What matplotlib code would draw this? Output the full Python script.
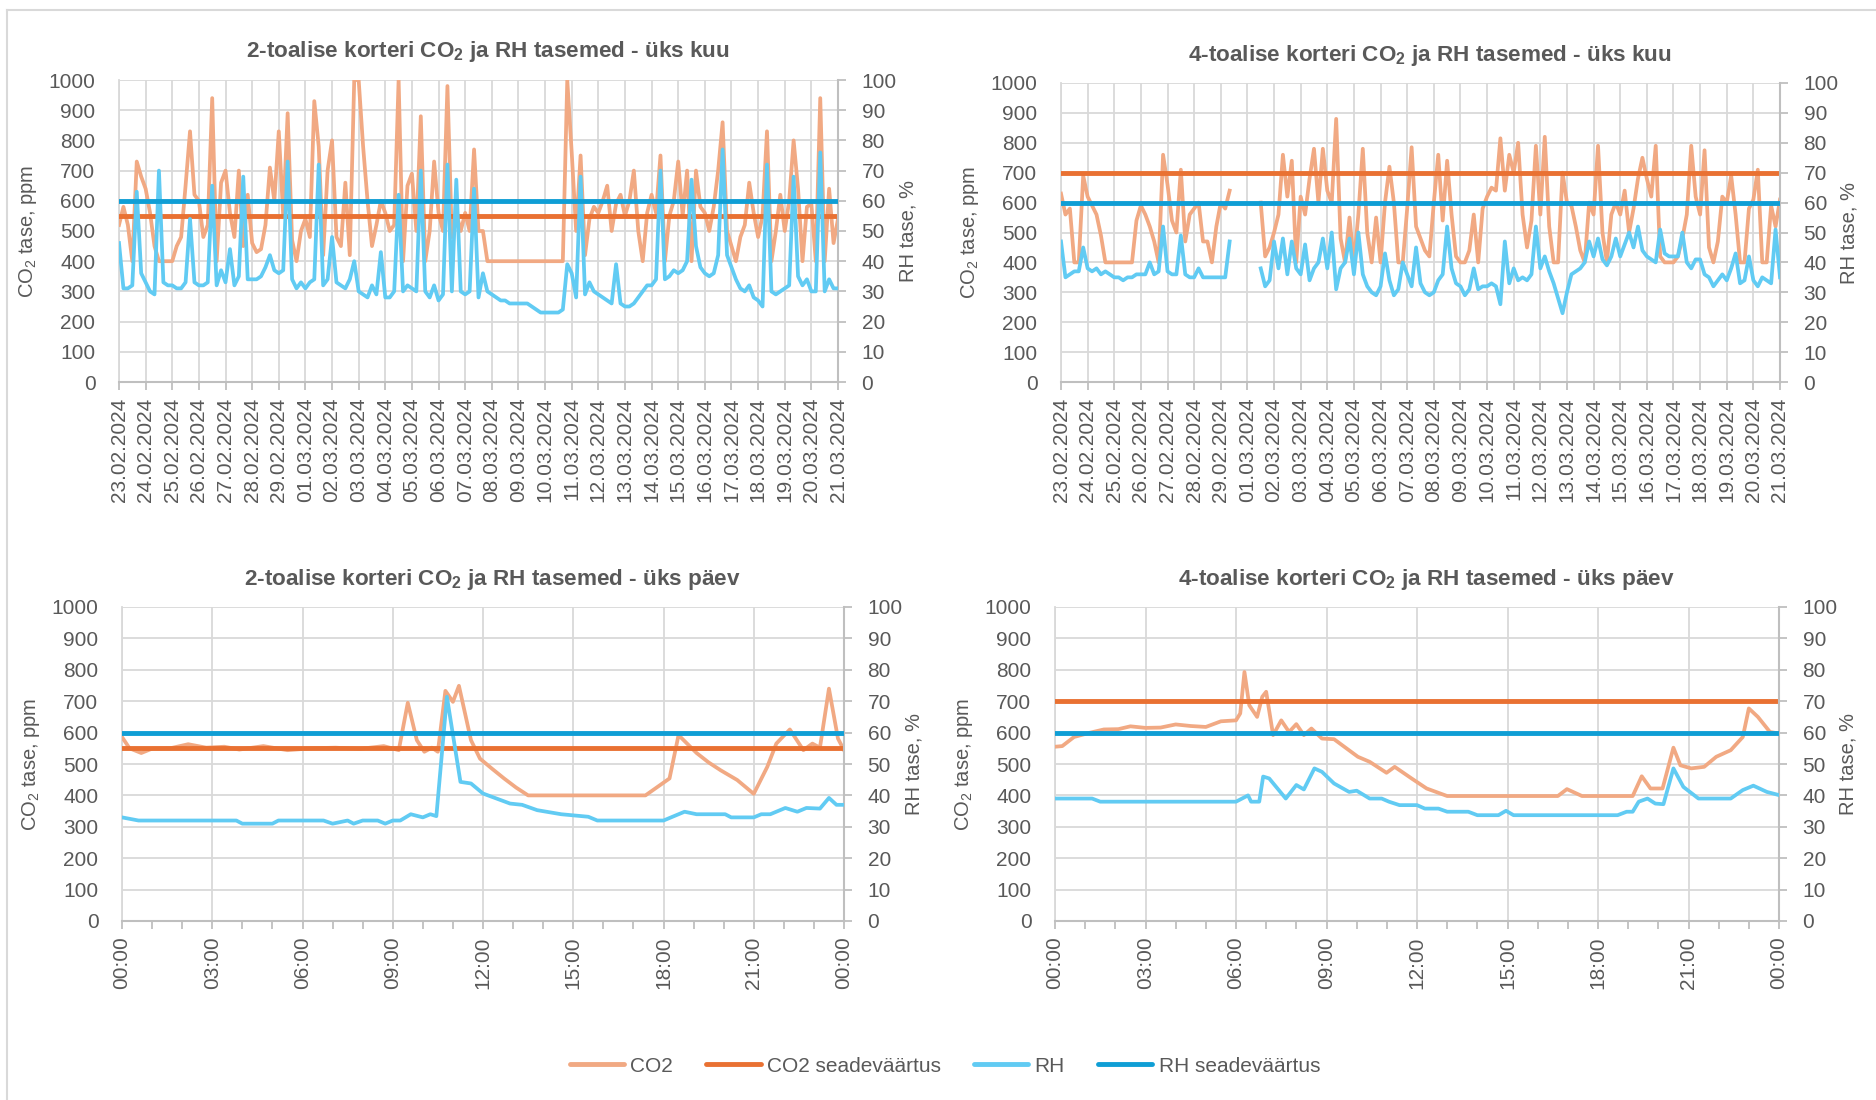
import numpy as np
import matplotlib
matplotlib.use("Agg")
import matplotlib.pyplot as plt
from matplotlib.lines import Line2D
from matplotlib.ticker import MultipleLocator

nan = float("nan")

# ---- data -------------------------------------------------------------
month_labels = ["23.02.2024", "24.02.2024", "25.02.2024", "26.02.2024", "27.02.2024",
                "28.02.2024", "29.02.2024", "01.03.2024", "02.03.2024", "03.03.2024",
                "04.03.2024", "05.03.2024", "06.03.2024", "07.03.2024", "08.03.2024",
                "09.03.2024", "10.03.2024", "11.03.2024", "12.03.2024", "13.03.2024",
                "14.03.2024", "15.03.2024", "16.03.2024", "17.03.2024", "18.03.2024",
                "19.03.2024", "20.03.2024", "21.03.2024"]
day_labels = ["00:00", "03:00", "06:00", "09:00", "12:00", "15:00", "18:00", "21:00", "00:00"]
per_day = 6  # readings per day in the month series (every 4 h)

# 2-room flat, one month (ppm / %)
m2_co2 = [520, 580, 520, 400, 730, 680,
          640, 560, 450, 400, 400, 400,
          400, 450, 480, 650, 830, 620,
          600, 480, 520, 940, 400, 660,
          700, 560, 480, 700, 450, 620,
          460, 430, 440, 520, 710, 600,
          830, 550, 890, 470, 400, 500,
          540, 480, 930, 780, 420, 700,
          800, 480, 450, 660, 420, 1000,
          1000, 780, 600, 450, 520, 600,
          560, 500, 520, 1000, 400, 650,
          690, 500, 880, 400, 500, 730,
          560, 500, 980, 480, 560, 500,
          560, 500, 770, 500, 500, 400,
          400, 400, 400, 400, 400, 400,
          400, 400, 400, 400, 400, 400,
          400, 400, 400, 400, 400, 1000,
          760, 500, 750, 420, 540, 580,
          560, 600, 650, 500, 590, 620,
          550, 600, 700, 500, 400, 560,
          620, 560, 750, 400, 550, 600,
          730, 550, 700, 400, 700, 580,
          560, 500, 580, 700, 860, 500,
          450, 400, 480, 520, 660, 560,
          480, 550, 830, 400, 500, 620,
          500, 600, 800, 640, 400, 580,
          590, 400, 940, 400, 640, 460,
          540]
m2_rh = [46, 31, 31, 32, 63, 36,
         33, 30, 29, 70, 33, 32,
         32, 31, 31, 33, 54, 33,
         32, 32, 33, 65, 32, 37,
         33, 44, 32, 35, 68, 34,
         34, 34, 35, 38, 42, 37,
         36, 37, 73, 34, 31, 33,
         31, 33, 34, 72, 32, 34,
         48, 33, 32, 31, 34, 40,
         30, 29, 28, 32, 29, 43,
         28, 28, 30, 62, 30, 32,
         31, 30, 70, 30, 28, 32,
         27, 29, 72, 30, 67, 30,
         29, 30, 64, 28, 36, 30,
         29, 28, 27, 27, 26, 26,
         26, 26, 26, 25, 24, 23,
         23, 23, 23, 23, 24, 39,
         36, 28, 68, 29, 33, 30,
         29, 28, 27, 26, 39, 26,
         25, 25, 26, 28, 30, 32,
         32, 34, 70, 34, 35, 37,
         36, 37, 40, 67, 45, 38,
         36, 35, 36, 42, 77, 42,
         38, 34, 31, 30, 32, 28,
         27, 25, 72, 30, 29, 30,
         31, 32, 68, 35, 32, 34,
         30, 30, 76, 30, 34, 31,
         31]

# 4-room flat, one month (gap = missing data)
m4_co2 = [630, 560, 580, 400, 400, 690,
          620, 590, 560, 490, 400, 400,
          400, 400, 400, 400, 400, 540,
          590, 560, 520, 470, 400, 760,
          660, 540, 500, 710, 470, 560,
          580, 600, 470, 470, 400, 520,
          600, 580, 640, nan, nan, nan,
          nan, nan, nan, 600, 420, 450,
          500, 560, 760, 620, 740, 400,
          620, 560, 680, 780, 600, 780,
          640, 600, 880, 480, 400, 550,
          400, 560, 780, 500, 400, 550,
          400, 600, 720, 600, 400, 400,
          580, 785, 520, 480, 440, 420,
          600, 760, 540, 740, 560, 420,
          400, 400, 440, 560, 400, 580,
          620, 650, 640, 815, 640, 760,
          700, 800, 560, 450, 540, 790,
          560, 820, 520, 400, 400, 700,
          600, 590, 520, 440, 400, 600,
          560, 790, 500, 400, 560, 600,
          560, 640, 500, 580, 680, 750,
          680, 620, 790, 420, 400, 400,
          400, 420, 480, 560, 790, 620,
          560, 775, 450, 400, 470, 620,
          600, 690, 560, 400, 400, 580,
          610, 710, 400, 400, 590, 520,
          610]
m4_rh = [47, 35, 36, 37, 37, 45,
         38, 37, 38, 36, 37, 36,
         35, 35, 34, 35, 35, 36,
         36, 36, 40, 36, 37, 52,
         37, 36, 36, 49, 36, 35,
         35, 38, 35, 35, 35, 35,
         35, 35, 47, nan, nan, nan,
         nan, nan, nan, 38, 32, 34,
         47, 38, 48, 36, 47, 38,
         36, 46, 34, 38, 40, 48,
         38, 50, 31, 38, 40, 48,
         36, 50, 36, 32, 30, 29,
         32, 43, 34, 29, 31, 40,
         36, 32, 45, 33, 30, 29,
         30, 34, 36, 52, 38, 33,
         32, 29, 31, 38, 31, 32,
         32, 33, 32, 26, 47, 33,
         38, 34, 35, 34, 36, 52,
         38, 42, 37, 33, 28, 23,
         30, 36, 37, 38, 40, 47,
         42, 48, 41, 39, 42, 48,
         42, 46, 50, 45, 52, 44,
         42, 41, 40, 51, 43, 42,
         42, 42, 50, 40, 38, 41,
         41, 36, 35, 32, 34, 36,
         34, 38, 43, 33, 34, 42,
         34, 32, 35, 34, 33, 51,
         35]

# 2-room flat, one day (hour of day, value)
d2_co2_t = [0, 0.25, 0.64, 1.0, 1.6, 2.2, 2.8, 3.4, 3.9, 4.7,
            5.5, 6.3, 7.1, 7.9, 8.7, 9.2, 9.5, 9.8, 10.05, 10.3,
            10.5, 10.75, 11.0, 11.2, 11.6, 11.9, 12.3, 12.7, 13.1, 13.5,
            15.5, 17.4, 17.8, 18.2, 18.5, 19.1, 19.5, 19.9, 20.45, 21.0,
            21.45, 21.75, 22.2, 22.65, 22.95, 23.2, 23.5, 23.8, 24.0]
d2_co2 = [586, 550, 535, 549, 550, 563, 552, 555, 546, 557,
          544, 550, 552, 548, 557, 544, 695, 576, 539, 552,
          539, 733, 698, 749, 576, 517, 485, 454, 425, 400,
          400, 400, 427, 454, 592, 535, 505, 480, 449, 405,
          491, 565, 610, 544, 565, 552, 740, 581, 544]
d2_rh_t = [0, 0.55, 3.8, 4.0, 5.0, 5.2, 6.7, 7.0, 7.5, 7.7,
           8.0, 8.5, 8.75, 9.0, 9.25, 9.6, 10.0, 10.25, 10.45, 10.8,
           11.25, 11.6, 12.0, 12.9, 13.3, 13.8, 14.6, 15.5, 15.8, 18.0,
           18.7, 19.1, 20.05, 20.25, 21.0, 21.25, 21.55, 22.05, 22.45, 22.75,
           23.2, 23.5, 23.75, 24.0]
d2_rh = [33, 32, 32, 31, 31, 32, 32, 31, 32, 31,
         32, 32, 31, 32, 32, 34, 33, 34, 33.4, 71.4,
         44.3, 43.8, 40.6, 37.4, 37, 35.3, 34, 33.2, 32, 32,
         34.8, 34, 34, 33, 33, 34, 34, 36, 34.8, 36,
         35.8, 39.2, 37, 37]

# 4-room flat, one day
d4_co2_t = [0, 0.24, 0.63, 1.13, 1.62, 2.1, 2.5, 3.0, 3.5, 4.0,
            4.5, 5.0, 5.5, 6.0, 6.14, 6.28, 6.44, 6.7, 6.87, 7.0,
            7.23, 7.5, 7.76, 8.0, 8.25, 8.5, 8.85, 9.25, 10.04, 10.43,
            10.99, 11.26, 11.82, 12.32, 13.0, 16.67, 16.97, 17.47, 19.15, 19.45,
            19.74, 20.14, 20.5, 20.73, 21.09, 21.52, 21.92, 22.4, 22.8, 23.0,
            23.3, 23.7, 24.0]
d4_co2 = [555, 557, 586, 599, 610, 611, 620, 615, 616, 626,
          621, 618, 636, 639, 661, 793, 687, 650, 714, 730,
          592, 639, 602, 627, 592, 613, 581, 579, 523, 507,
          472, 491, 454, 422, 398, 398, 420, 398, 398, 461,
          422, 422, 552, 496, 486, 491, 523, 544, 586, 677,
          650, 602, 597]
d4_rh_t = [0, 1.23, 1.5, 6.0, 6.4, 6.5, 6.77, 6.9, 7.1, 7.65,
           8.0, 8.25, 8.6, 8.85, 9.25, 9.75, 10.0, 10.43, 10.83, 11.07,
           11.42, 12.0, 12.26, 12.71, 13.0, 13.7, 14.0, 14.7, 14.95, 15.2,
           18.65, 18.95, 19.15, 19.35, 19.64, 19.9, 20.17, 20.5, 20.83, 21.33,
           22.4, 22.8, 23.15, 23.6, 24.0]
d4_rh = [39, 39, 38, 38, 40, 38, 38, 46, 45.4, 39,
         43.3, 41.9, 48.6, 47.5, 43.8, 41.1, 41.5, 39, 39, 38,
         36.9, 36.9, 35.8, 35.8, 34.8, 34.8, 33.7, 33.7, 35.1, 33.7,
         33.7, 34.8, 34.8, 38, 39, 37.4, 37.2, 48.6, 42.7, 39,
         39, 41.7, 43.1, 41.1, 40.1]

co2_set_2 = 550
co2_set_4 = 700
rh_set = 60

legend_labels = ["CO2", "CO2 seadeväärtus", "RH", "RH seadeväärtus"]

# ---- style ------------------------------------------------------------
C_CO2 = "#F1A983"
C_CO2_SET = "#E97132"
C_RH = "#61CBF3"
C_RH_SET = "#0F9ED5"
GRID = "#D9D9D9"
AXIS = "#BFBFBF"
TEXT = "#595959"

plt.rcParams["font.family"] = ["Liberation Sans", "DejaVu Sans"]
plt.rcParams["mathtext.fontset"] = "custom"
plt.rcParams["mathtext.rm"] = "Liberation Sans"
plt.rcParams["mathtext.bf"] = "Liberation Sans:bold"

W, H = 1876, 1100
fig = plt.figure(figsize=(W / 100, H / 100), dpi=100)


def rect(l, r, t, b):
    return [l / W, 1 - b / H, (r - l) / W, (b - t) / H]


def panel(box, x_c, co2, x_r, rh, co2_set, title, monthly):
    ax = fig.add_axes(box)
    wpx = box[2] * W
    hpx = box[3] * H
    ax.plot(x_c, co2, color=C_CO2, lw=2.7, zorder=3, solid_joinstyle="round")
    ax.axhline(co2_set, color=C_CO2_SET, lw=3.5, zorder=4)
    ax.set_ylim(0, 1000)
    ax.yaxis.set_major_locator(MultipleLocator(100))
    ax.set_axisbelow(True)
    ax.grid(True, color=GRID, lw=1.3)
    for s in ("top", "right"):
        ax.spines[s].set_visible(False)
    ax.spines["left"].set_color(GRID)
    ax.spines["left"].set_linewidth(1.3)
    ax.spines["bottom"].set_color(AXIS)
    ax.spines["bottom"].set_linewidth(1.5)
    ax.tick_params(axis="y", length=0, pad=17, labelsize=15, labelcolor=TEXT)
    ax.tick_params(axis="x", which="both", length=6, width=1.3, color=AXIS,
                   pad=5, labelsize=15, labelcolor=TEXT)
    if monthly:
        ax.set_xlim(0, len(month_labels) - 1)
        ax.set_xticks(np.arange(len(month_labels)))
        ax.set_xticklabels(month_labels, rotation=90)
    else:
        ax.set_xlim(0, 24)
        ax.set_xticks(np.arange(0, 25, 3))
        ax.set_xticklabels(day_labels, rotation=90)
        ax.xaxis.set_minor_locator(MultipleLocator(1))
    ax.set_ylabel("CO$_2$ tase, ppm", fontsize=14.5, color=TEXT)
    ax.yaxis.set_label_coords(-80 / wpx, 0.5)

    ax2 = ax.twinx()
    ax2.plot(x_r, rh, color=C_RH, lw=2.7, zorder=3, solid_joinstyle="round")
    ax2.axhline(rh_set, color=C_RH_SET, lw=3.5, zorder=4)
    ax2.set_ylim(0, 100)
    ax2.yaxis.set_major_locator(MultipleLocator(10))
    for s in ("top", "left", "bottom"):
        ax2.spines[s].set_visible(False)
    ax2.spines["right"].set_color(AXIS)
    ax2.spines["right"].set_linewidth(1.5)
    ax2.tick_params(axis="y", length=6, width=1.3, color=AXIS, pad=11,
                    labelsize=15, labelcolor=TEXT)
    ax2.set_ylabel("RH tase, %", fontsize=14.5, color=TEXT)
    ax2.yaxis.set_label_coords(1 + 60 / wpx, 0.5)

    ax.text(0.513, 1 + 28 / hpx, title, transform=ax.transAxes, ha="center",
            va="center", fontsize=16.2, fontweight="bold", color=TEXT)
    return ax


x_month = np.arange(len(m2_co2)) / per_day

panel(rect(119, 838, 80, 382), x_month, m2_co2, x_month, m2_rh, co2_set_2,
      "2-toalise korteri CO$_\\mathbf{2}$ ja RH tasemed - üks kuu", True)
panel(rect(1061, 1780, 83, 382), x_month, m4_co2, x_month, m4_rh, co2_set_4,
      "4-toalise korteri CO$_\\mathbf{2}$ ja RH tasemed - üks kuu", True)
panel(rect(122, 844, 607, 921), d2_co2_t, d2_co2, d2_rh_t, d2_rh, co2_set_2,
      "2-toalise korteri CO$_\\mathbf{2}$ ja RH tasemed - üks päev", False)
panel(rect(1055, 1779, 607, 921), d4_co2_t, d4_co2, d4_rh_t, d4_rh, co2_set_4,
      "4-toalise korteri CO$_\\mathbf{2}$ ja RH tasemed - üks päev", False)

handles = [Line2D([], [], color=c, lw=3.5, solid_capstyle="round")
           for c in (C_CO2, C_CO2_SET, C_RH, C_RH_SET)]
fig.legend(handles, legend_labels, loc="center", bbox_to_anchor=(945 / W, 1 - 1066 / H),
           ncol=4, frameon=False, fontsize=15, handlelength=2.6, handletextpad=0.3,
           columnspacing=1.6, labelcolor=TEXT)

# chart area border (top and left edges visible in the original)
fig.add_artist(Line2D([7 / W, 1], [1 - 10 / H, 1 - 10 / H], transform=fig.transFigure,
                      color=GRID, lw=1.5))
fig.add_artist(Line2D([7 / W, 7 / W], [0, 1 - 10 / H], transform=fig.transFigure,
                      color=GRID, lw=1.5))

fig.savefig("out.png", dpi=100)
